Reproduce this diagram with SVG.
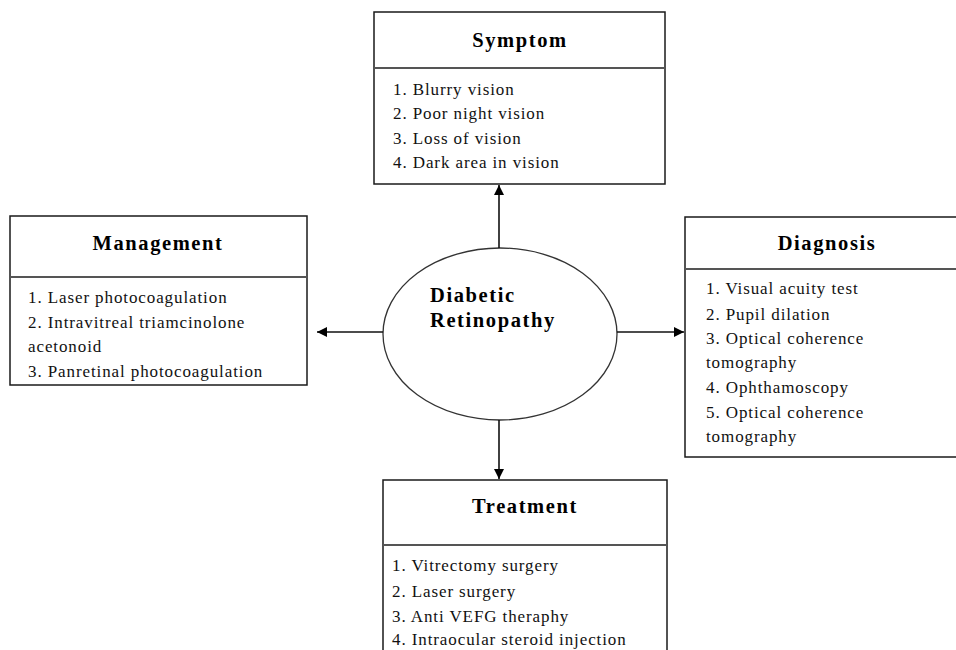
<svg xmlns="http://www.w3.org/2000/svg" width="956" height="650" viewBox="0 0 956 650">
<defs>
<style>
.box{fill:#fff;stroke:#1a1a1a;stroke-width:1.5}
.div{stroke:#555;stroke-width:1.8}
.title{font-family:"Liberation Serif","Times New Roman",serif;font-weight:bold;font-size:20.5px;letter-spacing:1.6px;fill:#000}
.item{font-family:"Liberation Serif","Times New Roman",serif;font-size:17px;letter-spacing:0.9px;fill:#111}
.conn{stroke:#111;stroke-width:1.6;fill:none}
</style>
<marker id="ah" viewBox="0 0 10 10" refX="10" refY="5" markerWidth="10" markerHeight="10" markerUnits="userSpaceOnUse" orient="auto">
<path d="M0,0 L10,5 L0,10 z" fill="#000"/>
</marker>
</defs>
<rect width="956" height="650" fill="#fff"/>

<g id="symptom">
<rect class="box" x="374" y="12" width="291" height="172"/>
<line class="div" x1="374" y1="68" x2="665" y2="68"/>
<text class="title" x="520" y="47" text-anchor="middle">Symptom</text>
<text class="item" x="393" y="95">1. Blurry vision</text>
<text class="item" x="393" y="119">2. Poor night vision</text>
<text class="item" x="393" y="144">3. Loss of vision</text>
<text class="item" x="393" y="168">4. Dark area in vision</text>
</g>

<g id="management">
<rect class="box" x="10" y="216" width="297" height="169"/>
<line class="div" x1="10" y1="277" x2="307" y2="277"/>
<text class="title" x="158" y="250" text-anchor="middle">Management</text>
<text class="item" x="28" y="303">1. Laser photocoagulation</text>
<text class="item" x="28" y="328">2. Intravitreal triamcinolone</text>
<text class="item" x="28" y="352">acetonoid</text>
<text class="item" x="28" y="377">3. Panretinal photocoagulation</text>
</g>

<g id="diagnosis">
<rect class="box" x="685" y="217" width="290" height="240"/>
<line class="div" x1="685" y1="269" x2="956" y2="269"/>
<text class="title" x="827" y="250" text-anchor="middle">Diagnosis</text>
<text class="item" x="706" y="294">1. Visual acuity test</text>
<text class="item" x="706" y="320">2. Pupil dilation</text>
<text class="item" x="706" y="344">3. Optical coherence</text>
<text class="item" x="706" y="368">tomography</text>
<text class="item" x="706" y="393">4. Ophthamoscopy</text>
<text class="item" x="706" y="418">5. Optical coherence</text>
<text class="item" x="706" y="442">tomography</text>
</g>

<g id="treatment">
<rect class="box" x="383" y="480" width="284" height="190"/>
<line class="div" x1="383" y1="545" x2="667" y2="545"/>
<text class="title" x="525" y="513" text-anchor="middle">Treatment</text>
<text class="item" x="392" y="571">1. Vitrectomy surgery</text>
<text class="item" x="392" y="597">2. Laser surgery</text>
<text class="item" x="392" y="622">3. Anti VEFG theraphy</text>
<text class="item" x="392" y="645">4. Intraocular steroid injection</text>
</g>

<g id="center">
<ellipse cx="500" cy="334" rx="117" ry="86" fill="#fff" stroke="#333" stroke-width="1.3"/>
<text class="title" x="430" y="302">Diabetic</text>
<text class="title" x="430" y="327">Retinopathy</text>
</g>

<g id="connectors">
<line class="conn" x1="499" y1="248" x2="499" y2="185" marker-end="url(#ah)"/>
<line class="conn" x1="499" y1="420" x2="499" y2="479" marker-end="url(#ah)"/>
<line class="conn" x1="383" y1="332" x2="317" y2="332" marker-end="url(#ah)"/>
<line class="conn" x1="617" y1="332" x2="684" y2="332" marker-end="url(#ah)"/>
</g>
</svg>
